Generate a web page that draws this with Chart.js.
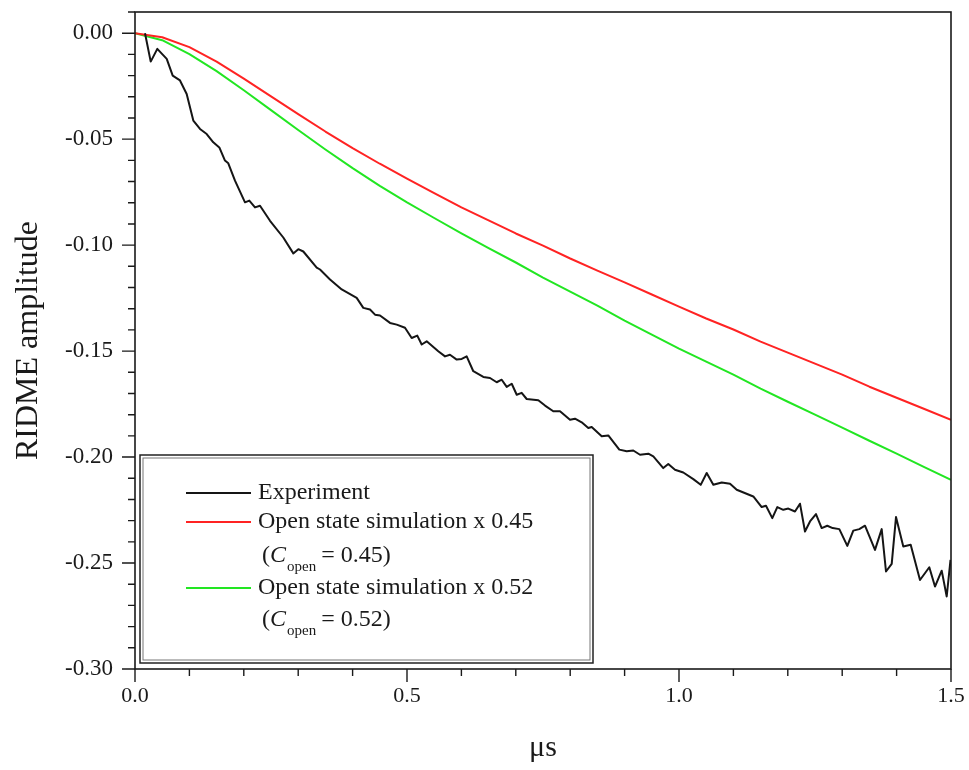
<!DOCTYPE html>
<html>
<head>
<meta charset="utf-8">
<script src="https://cdn.jsdelivr.net/npm/chart.js@4.4.1/dist/chart.umd.min.js"></script>
<style>
  body { margin: 0; background: #fff; }
  canvas { display: block; }
</style>
</head>
<body>
<canvas id="ridmeChart" width="969" height="770"></canvas>
<script>
// experiment (black trace)
const expTime = [
  0.0184, 0.0289, 0.0410, 0.0583, 0.0693, 0.0827, 0.0950, 0.1072, 0.1195, 0.1318,
  0.1439, 0.1550, 0.1654, 0.1715, 0.1838, 0.2022, 0.2101, 0.2206, 0.2298, 0.2482,
  0.2726, 0.2910, 0.3002, 0.3094, 0.3340, 0.3401, 0.3585, 0.3800, 0.4075, 0.4197,
  0.4320, 0.4412, 0.4504, 0.4688, 0.4811, 0.4963, 0.5086, 0.5189, 0.5270, 0.5362,
  0.5575, 0.5699, 0.5790, 0.5914, 0.6006, 0.6097, 0.6219, 0.6403, 0.6526, 0.6649,
  0.6741, 0.6833, 0.6925, 0.7017, 0.7108, 0.7200, 0.7414, 0.7537, 0.7689, 0.7813,
  0.7996, 0.8088, 0.8211, 0.8333, 0.8395, 0.8579, 0.8700, 0.8903, 0.9039, 0.9160,
  0.9283, 0.9436, 0.9528, 0.9711, 0.9803, 0.9926, 1.0079, 1.0263, 1.0399, 1.0509,
  1.0631, 1.0785, 1.0938, 1.1061, 1.1366, 1.1520, 1.1599, 1.1715, 1.1807, 1.1917,
  1.2009, 1.2132, 1.2224, 1.2316, 1.2408, 1.2518, 1.2623, 1.2726, 1.2825, 1.2947,
  1.3094, 1.3204, 1.3314, 1.3419, 1.3603, 1.3726, 1.3805, 1.3910, 1.3989, 1.4123,
  1.4259, 1.4430, 1.4601, 1.4706, 1.4829, 1.4921, 1.4991
];
const expAmp = [
  0.0000, -0.0134, -0.0074, -0.0121, -0.0200, -0.0223, -0.0287, -0.0412, -0.0452, -0.0476,
  -0.0515, -0.0539, -0.0601, -0.0614, -0.0696, -0.0798, -0.0790, -0.0822, -0.0814, -0.0885,
  -0.0964, -0.1039, -0.1019, -0.1030, -0.1106, -0.1115, -0.1162, -0.1209, -0.1249, -0.1296,
  -0.1304, -0.1328, -0.1332, -0.1367, -0.1375, -0.1390, -0.1438, -0.1427, -0.1469, -0.1454,
  -0.1501, -0.1525, -0.1517, -0.1540, -0.1537, -0.1525, -0.1595, -0.1622, -0.1627, -0.1647,
  -0.1635, -0.1669, -0.1654, -0.1706, -0.1697, -0.1726, -0.1732, -0.1757, -0.1784, -0.1784,
  -0.1824, -0.1819, -0.1836, -0.1863, -0.1858, -0.1902, -0.1898, -0.1965, -0.1973, -0.1969,
  -0.1989, -0.1984, -0.1997, -0.2052, -0.2033, -0.2060, -0.2073, -0.2104, -0.2131, -0.2075,
  -0.2131, -0.2120, -0.2126, -0.2154, -0.2186, -0.2236, -0.2230, -0.2288, -0.2236, -0.2249,
  -0.2243, -0.2257, -0.2220, -0.2351, -0.2304, -0.2269, -0.2335, -0.2324, -0.2335, -0.2340,
  -0.2419, -0.2347, -0.2340, -0.2324, -0.2438, -0.2340, -0.2540, -0.2504, -0.2283, -0.2422,
  -0.2414, -0.2580, -0.2520, -0.2611, -0.2536, -0.2658, -0.2485
];

// simulations (red, green)
const simTime = [
  0.00, 0.05, 0.10, 0.15, 0.20, 0.25, 0.30, 0.35, 0.40, 0.45, 0.50,
  0.55, 0.60, 0.65, 0.70, 0.75, 0.80, 0.85, 0.90, 0.95, 1.00,
  1.05, 1.10, 1.15, 1.20, 1.25, 1.30, 1.35, 1.40, 1.45, 1.50
];
const sim045 = [
  0.0000, -0.0019, -0.0066, -0.0134, -0.0214, -0.0298, -0.0382, -0.0464, -0.0542, -0.0616, -0.0686,
  -0.0755, -0.0822, -0.0883, -0.0945, -0.1002, -0.1063, -0.1120, -0.1176, -0.1233, -0.1290,
  -0.1346, -0.1398, -0.1455, -0.1507, -0.1559, -0.1611, -0.1668, -0.1720, -0.1772, -0.1824
];
const sim052 = [
  0.0000, -0.0033, -0.0099, -0.0179, -0.0269, -0.0363, -0.0457, -0.0549, -0.0637, -0.0720, -0.0798,
  -0.0872, -0.0944, -0.1014, -0.1082, -0.1153, -0.1219, -0.1285, -0.1356, -0.1422, -0.1488,
  -0.1550, -0.1611, -0.1677, -0.1739, -0.1800, -0.1861, -0.1923, -0.1984, -0.2046, -0.2107
];

const seriesLabels = ["Experiment", "Open state simulation x 0.45", "Open state simulation x 0.52"];
const copenValues = [null, "0.45", "0.52"];
const seriesColors = ["#151515", "#ff2323", "#22e622"];

const SERIF = "'Liberation Serif', 'Times New Roman', serif";

function pts(xs, ys) {
  return xs.map((x, i) => ({ x: x, y: ys[i] }));
}

// frame + tick marks (major long, minor short)
const frameTicks = {
  id: "frameTicks",
  afterDatasetsDraw(chart) {
    const { ctx, chartArea: a, scales } = chart;
    ctx.save();
    ctx.strokeStyle = "#1a1a1a";
    ctx.lineWidth = 1.6;
    ctx.strokeRect(a.left, a.top, a.right - a.left, a.bottom - a.top);
    ctx.lineWidth = 1.4;
    ctx.beginPath();
    scales.y.ticks.forEach((t) => {
      const py = scales.y.getPixelForValue(t.value);
      const len = t.label ? 13 : 7;
      ctx.moveTo(a.left, py);
      ctx.lineTo(a.left - len, py);
    });
    scales.x.ticks.forEach((t) => {
      const px = scales.x.getPixelForValue(t.value);
      const len = t.label ? 13 : 7;
      ctx.moveTo(px, a.bottom);
      ctx.lineTo(px, a.bottom + len);
    });
    ctx.stroke();
    ctx.restore();
  }
};

// boxed legend with subscript lines
const boxLegend = {
  id: "boxLegend",
  afterDraw(chart) {
    const { ctx, chartArea: a } = chart;
    const bx = a.left + 5, by = a.bottom - 214, bw = 453, bh = 208;
    ctx.save();
    ctx.fillStyle = "#fff";
    ctx.fillRect(bx, by, bw, bh);
    ctx.strokeStyle = "#222";
    ctx.lineWidth = 1.5;
    ctx.strokeRect(bx, by, bw, bh);
    ctx.strokeStyle = "#777";
    ctx.lineWidth = 1;
    ctx.strokeRect(bx + 3, by + 3, bw - 6, bh - 6);

    const rows = [38, 67, 133];
    const subRows = [null, 101, 165];
    ctx.textBaseline = "middle";
    chart.data.datasets.forEach((ds, i) => {
      const y = by + rows[i];
      ctx.strokeStyle = ds.borderColor;
      ctx.lineWidth = 2;
      ctx.beginPath();
      ctx.moveTo(bx + 46, y);
      ctx.lineTo(bx + 111, y);
      ctx.stroke();
      ctx.fillStyle = "#1a1a1a";
      ctx.font = "24px " + SERIF;
      ctx.fillText(ds.label, bx + 118, y);
      if (copenValues[i]) {
        const sy = by + subRows[i];
        let x = bx + 122;
        ctx.font = "24px " + SERIF;
        ctx.fillText("(", x, sy);
        x += ctx.measureText("(").width;
        ctx.font = "italic 24px " + SERIF;
        ctx.fillText("C", x, sy);
        x += ctx.measureText("C").width + 1;
        ctx.font = "15px " + SERIF;
        ctx.fillText("open", x, sy + 11);
        x += ctx.measureText("open").width + 5;
        ctx.font = "24px " + SERIF;
        ctx.fillText("= " + copenValues[i] + ")", x, sy);
      }
    });
    ctx.restore();
  }
};

new Chart(document.getElementById("ridmeChart"), {
  type: "line",
  data: {
    datasets: [
      { label: seriesLabels[0], data: pts(expTime, expAmp), borderColor: seriesColors[0], borderWidth: 2 },
      { label: seriesLabels[1], data: pts(simTime, sim045), borderColor: seriesColors[1], borderWidth: 2 },
      { label: seriesLabels[2], data: pts(simTime, sim052), borderColor: seriesColors[2], borderWidth: 2 }
    ]
  },
  options: {
    responsive: false,
    animation: false,
    layout: { padding: { top: 12, right: 18, left: 0, bottom: 0 } },
    elements: { point: { radius: 0 }, line: { tension: 0, borderJoinStyle: "round" } },
    plugins: { legend: { display: false }, tooltip: { enabled: false } },
    scales: {
      x: {
        type: "linear",
        min: 0,
        max: 1.5,
        grid: { display: false, drawTicks: false },
        border: { display: false },
        ticks: {
          stepSize: 0.1,
          autoSkip: false,
          maxRotation: 0,
          padding: 14,
          color: "#1a1a1a",
          font: { family: SERIF, size: 22 },
          callback: (v) => {
            const r = Math.round(v * 10);
            return r % 5 === 0 ? (r / 10).toFixed(1) : "";
          }
        },
        title: {
          display: true,
          text: "\u03bcs",
          color: "#1a1a1a",
          font: { family: SERIF, size: 30 },
          padding: { top: 0, bottom: 4 }
        },
        afterFit: (s) => {
          s.height = 101;
          s.paddingLeft = 0;
          s.paddingRight = 0;
        }
      },
      y: {
        min: -0.30,
        max: 0.01,
        grid: { display: false, drawTicks: false },
        border: { display: false },
        ticks: {
          stepSize: 0.01,
          autoSkip: false,
          padding: 22,
          color: "#1a1a1a",
          font: { family: SERIF, size: 23 },
          callback: (v) => {
            const r = Math.round(v * 100);
            if (r % 5 !== 0 || r > 0) return "";
            return r === 0 ? "0.00" : (r / 100).toFixed(2);
          }
        },
        title: {
          display: true,
          text: "RIDME amplitude",
          color: "#1a1a1a",
          font: { family: SERIF, size: 32 },
          padding: { top: 9, bottom: 0 }
        },
        afterFit: (s) => {
          s.width = 135;
          s.paddingTop = 0;
          s.paddingBottom = 0;
        }
      }
    }
  },
  plugins: [frameTicks, boxLegend]
});
</script>
</body>
</html>
